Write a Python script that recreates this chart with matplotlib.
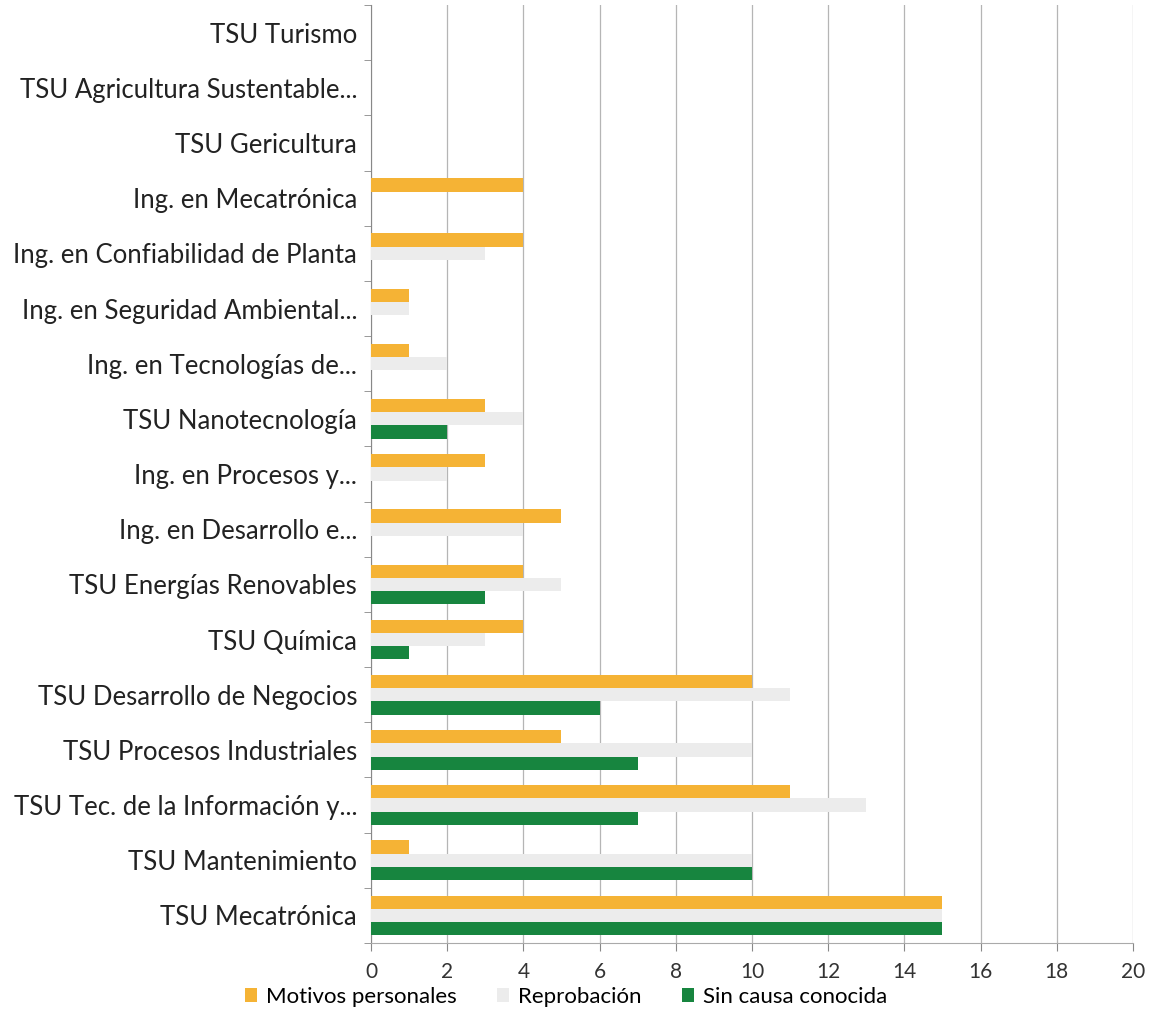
import matplotlib.pyplot as plt
import numpy as np

plt.rcParams['font.family'] = ['Lato', 'DejaVu Sans']

# categories listed bottom to top
carreras = ['TSU Mecatrónica', 'TSU Mantenimiento', 'TSU Tec. de la Información y...',
            'TSU Procesos Industriales', 'TSU Desarrollo de Negocios', 'TSU Química',
            'TSU Energías Renovables', 'Ing. en Desarrollo e...', 'Ing. en Procesos y...',
            'TSU Nanotecnología', 'Ing. en Tecnologías de...', 'Ing. en Seguridad Ambiental...',
            'Ing. en Confiabilidad de Planta', 'Ing. en Mecatrónica', 'TSU Gericultura',
            'TSU Agricultura Sustentable...', 'TSU Turismo']
motivos = [15, 1, 11, 5, 10, 4, 4, 5, 3, 3, 1, 1, 4, 4, 0, 0, 0]
reprobacion = [15, 10, 13, 10, 11, 3, 5, 4, 2, 4, 2, 1, 3, 0, 0, 0, 0]
sin_causa = [15, 10, 7, 7, 6, 1, 3, 0, 0, 2, 0, 0, 0, 0, 0, 0, 0]

fig = plt.figure(figsize=(11.5, 10.14), dpi=100)
ax = fig.add_axes([0.3226, 0.07, 0.6626, 0.925])

y = np.arange(len(carreras))
h = 0.24
ax.barh(y + h, motivos, height=h, color='#f5b335', label='Motivos personales', zorder=3)
ax.barh(y, reprobacion, height=h, color='#ececec', label='Reprobación', zorder=3)
ax.barh(y - h, sin_causa, height=h, color='#17853f', label='Sin causa conocida', zorder=3)

ax.set_xlim(0, 20)
ax.set_ylim(-0.5, len(carreras) - 0.5)
ax.set_xticks(np.arange(0, 21, 2))
ax.set_yticks(y)
ax.set_yticklabels(carreras, fontsize=18.5, color='#222222')
ax.set_yticks(np.arange(-0.5, len(carreras), 1), minor=True)
ax.tick_params(axis='y', which='major', length=0, pad=10)
ax.tick_params(axis='y', which='minor', length=5, color='#888888')
ax.tick_params(axis='x', length=6, color='#888888', labelsize=15, pad=8, labelcolor='#333333')

ax.grid(axis='x', color='#b5b5b5', linewidth=0.9, zorder=0)
for s in ['top', 'right']:
    ax.spines[s].set_visible(False)
ax.spines['left'].set_color('#888888')
ax.spines['bottom'].set_color('#aaaaaa')

ax.legend(loc='upper center', bbox_to_anchor=(0.256, -0.035), ncol=3, frameon=False,
          fontsize=16, handlelength=0.55, handleheight=0.55, handletextpad=0.4,
          columnspacing=1.8, borderpad=0)

fig.savefig('out.png')
